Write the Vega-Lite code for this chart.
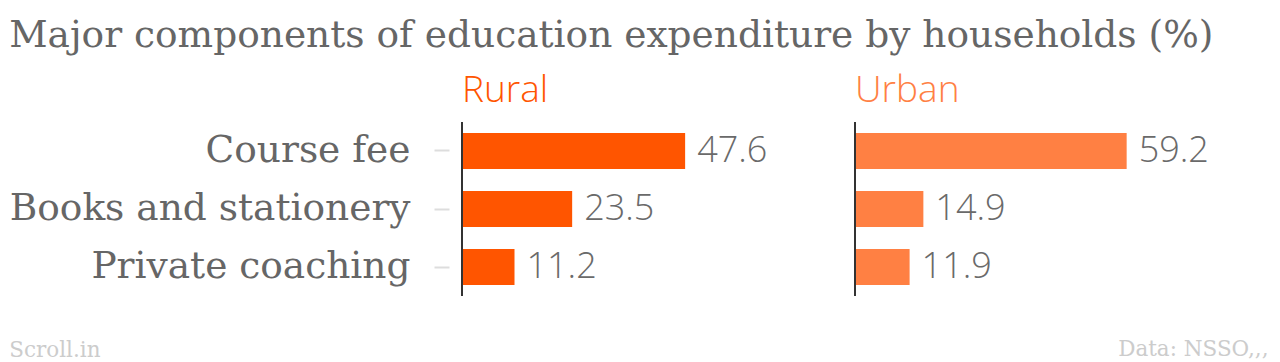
{
  "$schema": "https://vega.github.io/schema/vega-lite/v6.json",
  "autosize": "pad",
  "padding": {"left": 9, "top": 16, "right": 8, "bottom": 2},
  "background": "white",
  "title": {
    "text": "Major components of education expenditure by households (%)",
    "anchor": "start",
    "font": "DejaVu Serif",
    "fontSize": 37.5,
    "fontWeight": "normal",
    "color": "#666666",
    "offset": 18
  },
  "data": {
    "values": [
      {"area": "Rural", "component": "Course fee", "share": 47.6},
      {"area": "Rural", "component": "Books and stationery", "share": 23.5},
      {"area": "Rural", "component": "Private coaching", "share": 11.2},
      {"area": "Urban", "component": "Course fee", "share": 59.2},
      {"area": "Urban", "component": "Books and stationery", "share": 14.9},
      {"area": "Urban", "component": "Private coaching", "share": 11.9}
    ]
  },
  "vconcat": [
    {
      "title": {"text": "Scroll.in", "orient": "bottom", "anchor": "start", "frame": "bounds", "font": "DejaVu Serif", "fontSize": 21.5, "fontWeight": "normal", "color": "#cccccc", "offset": -20},
      "spacing": 17,
      "hconcat": [
        {
          "title": {"text": "Rural", "anchor": "start", "frame": "group", "font": "Open Sans", "fontWeight": 300, "fontSize": 37, "color": "#ff5500", "offset": 11},
          "width": 375,
          "height": 174,
          "transform": [{"filter": "datum.area == 'Rural'"}],
          "layer": [
            {
              "mark": {"type": "bar", "color": "#ff5500"},
              "encoding": {
                "y": {
                  "field": "component",
                  "type": "nominal",
                  "sort": ["Course fee", "Books and stationery", "Private coaching"],
                  "scale": {"paddingInner": 0.38, "paddingOuter": 0.19},
                  "axis": {
                    "title": null,
                    "domain": false,
                    "offset": 13,
                    "ticks": true,
                    "tickSize": 15,
                    "tickWidth": 2,
                    "tickColor": "#dddddd",
                    "labelPadding": 24,
                    "labelFont": "DejaVu Serif",
                    "labelFontSize": 37.5,
                    "labelColor": "#666666",
                    "labelLimit": 600
                  }
                },
                "x": {"field": "share", "type": "quantitative", "scale": {"domain": [0, 80]}, "axis": null}
              }
            },
            {
              "mark": {"type": "text", "align": "left", "baseline": "middle", "dx": 12, "font": "Open Sans", "fontWeight": 300, "fontSize": 36, "color": "#6a6a6a"},
              "encoding": {
                "y": {"field": "component", "type": "nominal", "sort": ["Course fee", "Books and stationery", "Private coaching"]},
                "x": {"field": "share", "type": "quantitative"},
                "text": {"field": "share", "type": "quantitative", "format": ".1f"}
              }
            },
            {
              "mark": {"type": "rule", "color": "#333333", "strokeWidth": 2},
              "encoding": {"x": {"datum": 0, "type": "quantitative"}}
            }
          ]
        },
        {
          "title": {"text": "Urban", "anchor": "start", "frame": "group", "font": "Open Sans", "fontWeight": 300, "fontSize": 37, "color": "#ff8043", "offset": 11},
          "width": 413,
          "height": 174,
          "transform": [{"filter": "datum.area == 'Urban'"}],
          "layer": [
            {
              "mark": {"type": "bar", "color": "#ff8043"},
              "encoding": {
                "y": {
                  "field": "component",
                  "type": "nominal",
                  "sort": ["Course fee", "Books and stationery", "Private coaching"],
                  "scale": {"paddingInner": 0.38, "paddingOuter": 0.19},
                  "axis": null
                },
                "x": {
                  "field": "share",
                  "type": "quantitative",
                  "scale": {"domain": [0, 88.11]},
                  "axis": {
                    "orient": "bottom",
                    "domain": false,
                    "ticks": false,
                    "labels": false,
                    "grid": false,
                    "title": "Data: NSSO,,,",
                    "titleAnchor": "end",
                    "titleFont": "DejaVu Serif",
                    "titleFontSize": 21.5,
                    "titleFontWeight": "normal",
                    "titleColor": "#cccccc",
                    "titlePadding": 42
                  }
                }
              }
            },
            {
              "mark": {"type": "text", "align": "left", "baseline": "middle", "dx": 12, "font": "Open Sans", "fontWeight": 300, "fontSize": 36, "color": "#6a6a6a"},
              "encoding": {
                "y": {"field": "component", "type": "nominal", "sort": ["Course fee", "Books and stationery", "Private coaching"]},
                "x": {"field": "share", "type": "quantitative"},
                "text": {"field": "share", "type": "quantitative", "format": ".1f"}
              }
            },
            {
              "mark": {"type": "rule", "color": "#333333", "strokeWidth": 2},
              "encoding": {"x": {"datum": 0, "type": "quantitative"}}
            }
          ]
        }
      ]
    }
  ],
  "config": {"view": {"stroke": null}}
}
